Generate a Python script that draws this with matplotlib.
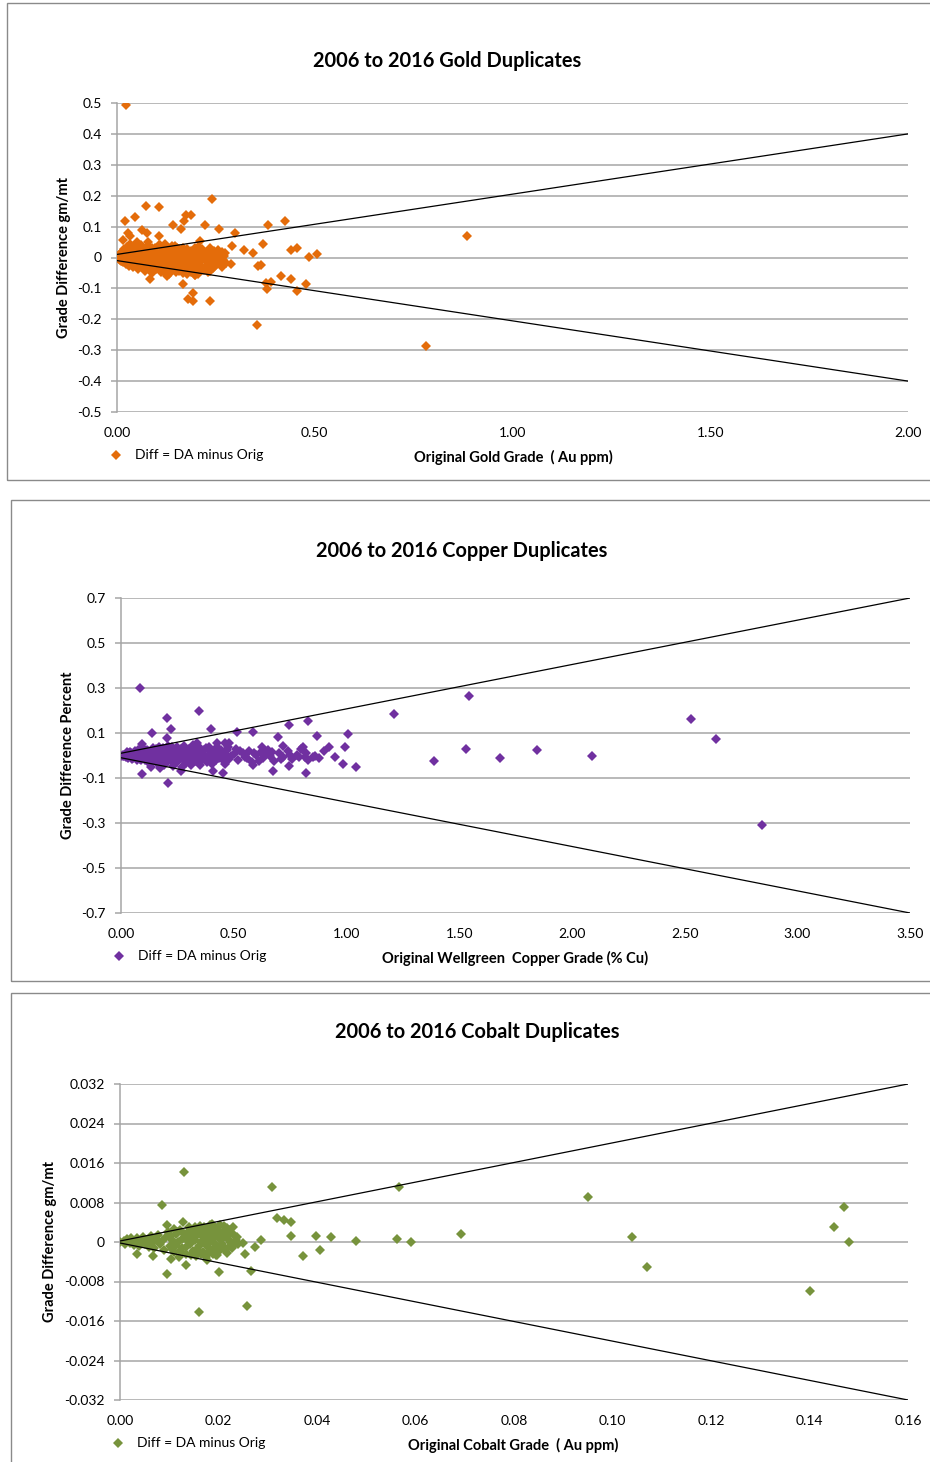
import numpy as np
import matplotlib.pyplot as plt
from matplotlib.patches import Rectangle

plt.rcParams['font.family'] = ['Lato', 'DejaVu Sans']

W, H = 930, 1462

# ---- gold duplicates (x = original Au ppm, y = duplicate minus original)
gold_pts = [
    (0.023, 0.492), (0.020, 0.117), (0.046, 0.130), (0.073, 0.166), (0.105, 0.163),
    (0.239, 0.190), (0.174, 0.136), (0.186, 0.137), (0.170, 0.118), (0.142, 0.104),
    (0.162, 0.093), (0.222, 0.104), (0.257, 0.091), (0.299, 0.079), (0.383, 0.104),
    (0.424, 0.118), (0.370, 0.044), (0.321, 0.023), (0.345, 0.013), (0.292, 0.037),
    (0.266, 0.018), (0.210, 0.055), (0.204, 0.035), (0.240, 0.022), (0.214, 0.010),
    (0.231, 0.007), (0.254, -0.006), (0.287, -0.020), (0.237, -0.031), (0.229, -0.047),
    (0.166, -0.087), (0.198, -0.056), (0.176, -0.053), (0.083, -0.071), (0.193, -0.114),
    (0.180, -0.134), (0.191, -0.141), (0.236, -0.140), (0.355, -0.217), (0.356, -0.026),
    (0.364, -0.025), (0.440, 0.023), (0.456, 0.030), (0.486, 0.002), (0.506, 0.012),
    (0.378, -0.082), (0.380, -0.101), (0.390, -0.080), (0.414, -0.060), (0.441, -0.071),
    (0.454, -0.110), (0.479, -0.087), (0.884, 0.069), (0.781, -0.285),
    (0.029, 0.080), (0.062, 0.088), (0.077, 0.078), (0.016, 0.058), (0.033, 0.069),
    (0.054, 0.042), (0.079, 0.050), (0.106, 0.069), (0.109, 0.042), (0.121, 0.044),
    (0.147, 0.037), (0.176, 0.020), (0.126, -0.060), (0.131, -0.055), (0.197, -0.058),
    (0.235, -0.044),
    (0.000, 0.000), (0.003, 0.004), (0.005, -0.004), (0.008, 0.010), (0.008, -0.008),
    (0.010, 0.002), (0.012, 0.018), (0.012, -0.012), (0.015, 0.006), (0.016, -0.016),
    (0.018, 0.026), (0.020, -0.002), (0.022, 0.012), (0.022, -0.020), (0.025, 0.034),
    (0.026, -0.010), (0.028, 0.020), (0.030, -0.026), (0.032, 0.004), (0.034, 0.044),
    (0.036, -0.016), (0.038, 0.026), (0.040, -0.032), (0.042, 0.010), (0.045, 0.036),
    (0.046, -0.022), (0.048, 0.002), (0.050, 0.050), (0.052, -0.038), (0.055, 0.020),
    (0.058, -0.010), (0.060, 0.040), (0.062, -0.028), (0.065, 0.006), (0.068, 0.028),
    (0.070, -0.044), (0.072, -0.016), (0.075, 0.014), (0.078, 0.038), (0.080, -0.004),
    (0.082, -0.030), (0.085, 0.022), (0.088, -0.050), (0.090, 0.004), (0.092, -0.020),
    (0.095, 0.030), (0.098, -0.036), (0.100, 0.012), (0.102, -0.008), (0.105, 0.040),
    (0.108, -0.026), (0.110, -0.046), (0.112, 0.018), (0.115, -0.012), (0.118, 0.030),
    (0.120, -0.036), (0.122, 0.002), (0.125, -0.054), (0.128, 0.024), (0.130, -0.020),
    (0.133, 0.008), (0.136, -0.040), (0.138, 0.036), (0.140, -0.006), (0.143, -0.028),
    (0.146, 0.016), (0.148, -0.048), (0.150, 0.000), (0.153, -0.018), (0.156, 0.026),
    (0.158, -0.036), (0.160, 0.010), (0.163, -0.008), (0.166, -0.050), (0.168, 0.032),
    (0.170, -0.024), (0.173, 0.004), (0.176, -0.040), (0.178, 0.018), (0.180, -0.012),
    (0.183, -0.030), (0.186, 0.022), (0.188, -0.046), (0.190, 0.006), (0.193, -0.020),
    (0.196, 0.030), (0.198, -0.034), (0.200, 0.000), (0.204, -0.052), (0.206, 0.016),
    (0.209, -0.014), (0.212, -0.028), (0.215, 0.026), (0.218, 0.004), (0.221, -0.040),
    (0.224, -0.008), (0.227, 0.014), (0.230, -0.022), (0.234, 0.030), (0.238, -0.002),
    (0.242, -0.034), (0.246, 0.012), (0.250, -0.016), (0.255, 0.024), (0.260, -0.006),
    (0.265, -0.030), (0.270, 0.006),
    (0.005, 0.008), (0.010, -0.010), (0.014, 0.012), (0.018, -0.006), (0.024, 0.004),
    (0.030, 0.014), (0.035, -0.006), (0.040, 0.020), (0.044, -0.012), (0.050, 0.008),
    (0.054, -0.024), (0.058, 0.030), (0.064, -0.004), (0.068, -0.034), (0.074, 0.024),
    (0.078, -0.022), (0.084, 0.006), (0.088, 0.032), (0.094, -0.010), (0.098, 0.018),
    (0.104, -0.030), (0.108, 0.008), (0.113, 0.034), (0.117, -0.022), (0.123, 0.014),
    (0.127, -0.008), (0.132, -0.032), (0.137, 0.020), (0.142, 0.004), (0.147, -0.016),
    (0.152, 0.032), (0.157, -0.044), (0.162, 0.020), (0.167, -0.004), (0.172, -0.034),
    (0.177, 0.028), (0.182, 0.008), (0.187, -0.024), (0.192, -0.040), (0.197, 0.014),
    (0.202, -0.010), (0.208, 0.028), (0.213, -0.040), (0.219, 0.018), (0.225, -0.030),
    (0.232, 0.004), (0.236, -0.014), (0.244, 0.022), (0.248, -0.026), (0.253, 0.002),
    (0.258, 0.016), (0.262, -0.020), (0.268, -0.008), (0.272, 0.014), (0.276, -0.018),
]
gold_env_x = [0.0, 2.0]
gold_env_y = [0.01, 0.40]

# ---- copper duplicates (% Cu)
copper_pts = [
    (0.084, 0.301), (0.346, 0.199), (0.203, 0.165), (0.222, 0.118), (0.139, 0.099),
    (0.203, 0.079), (0.093, 0.051), (0.398, 0.116), (0.516, 0.106), (0.584, 0.103),
    (0.745, 0.136), (0.831, 0.152), (0.695, 0.084), (0.871, 0.088), (1.009, 0.097),
    (0.921, 0.039), (0.994, 0.039), (0.806, 0.039), (0.815, -0.008), (0.850, -0.005),
    (0.880, -0.012), (0.986, -0.039), (1.041, -0.050), (0.821, -0.076), (0.744, -0.048),
    (0.674, -0.069), (0.624, 0.036), (0.717, 0.044), (1.387, -0.024), (1.529, 0.030),
    (1.544, 0.266), (1.213, 0.184), (0.210, -0.121), (0.092, -0.082), (0.451, -0.076),
    (0.407, -0.067), (0.587, -0.042), (0.268, -0.069), (0.173, -0.057), (0.133, -0.052),
    (0.336, 0.057), (0.463, 0.054), (0.480, 0.057), (0.424, 0.054),
    (1.680, -0.011), (1.846, 0.024), (2.090, -0.002), (2.529, 0.162), (2.640, 0.073),
    (2.844, -0.309),
    (0.00, 0.000), (0.01, 0.004), (0.01, -0.004), (0.02, 0.008), (0.02, -0.006),
    (0.03, 0.012), (0.03, -0.010), (0.04, 0.002), (0.04, 0.016), (0.05, -0.014),
    (0.05, 0.008), (0.06, 0.020), (0.06, -0.004), (0.07, -0.018), (0.07, 0.012),
    (0.08, 0.024), (0.08, -0.008), (0.09, 0.004), (0.09, -0.022), (0.10, 0.016),
    (0.10, 0.030), (0.11, -0.012), (0.11, 0.002), (0.12, 0.022), (0.12, -0.028),
    (0.13, 0.010), (0.13, -0.006), (0.14, 0.034), (0.14, -0.018), (0.15, 0.002),
    (0.15, 0.020), (0.16, -0.032), (0.16, -0.010), (0.17, 0.014), (0.17, 0.040),
    (0.18, -0.020), (0.18, 0.004), (0.19, 0.026), (0.19, -0.040), (0.20, -0.004),
    (0.20, 0.012), (0.21, 0.044), (0.21, -0.026), (0.22, 0.006), (0.22, 0.030),
    (0.23, -0.014), (0.23, -0.046), (0.24, 0.018), (0.24, 0.000), (0.25, 0.036),
    (0.25, -0.030), (0.26, 0.008), (0.26, -0.008), (0.27, 0.024), (0.27, -0.050),
    (0.28, -0.018), (0.28, 0.042), (0.29, 0.002), (0.29, -0.034), (0.30, 0.016),
    (0.30, 0.030), (0.31, -0.010), (0.31, -0.044), (0.32, 0.006), (0.32, 0.048),
    (0.33, -0.024), (0.33, 0.020), (0.34, -0.002), (0.35, 0.034), (0.35, -0.040),
    (0.36, 0.010), (0.37, -0.016), (0.37, 0.026), (0.38, -0.030), (0.39, 0.040),
    (0.39, 0.002), (0.40, -0.008), (0.41, 0.018), (0.42, -0.022), (0.43, 0.030),
    (0.44, -0.004), (0.45, 0.012), (0.46, -0.036), (0.47, 0.024), (0.48, -0.014),
    (0.50, 0.006), (0.51, 0.028), (0.52, -0.020), (0.54, 0.012), (0.55, -0.006),
    (0.57, 0.020), (0.58, -0.030), (0.60, 0.004), (0.62, 0.016), (0.63, -0.012),
    (0.65, 0.026), (0.66, -0.002), (0.68, -0.024), (0.70, 0.010), (0.72, -0.006),
    (0.74, 0.020), (0.76, -0.016), (0.78, 0.004), (0.80, 0.028), (0.83, -0.020),
    (0.015, 0.000), (0.025, 0.014), (0.035, -0.004), (0.045, 0.010), (0.055, -0.010),
    (0.065, 0.006), (0.075, 0.026), (0.085, -0.014), (0.095, 0.010), (0.105, -0.020),
    (0.115, 0.026), (0.125, 0.000), (0.135, -0.024), (0.145, 0.012), (0.155, 0.030),
    (0.165, -0.016), (0.175, 0.002), (0.185, 0.032), (0.195, -0.026), (0.205, 0.022),
    (0.215, -0.010), (0.225, 0.038), (0.235, -0.032), (0.245, 0.010), (0.255, -0.020),
    (0.265, 0.028), (0.275, -0.004), (0.285, 0.018), (0.295, -0.024), (0.305, 0.004),
    (0.315, 0.040), (0.325, -0.014), (0.335, 0.026), (0.345, -0.030), (0.355, 0.012),
    (0.365, -0.004), (0.375, 0.034), (0.385, -0.020), (0.395, 0.018), (0.405, -0.036),
    (0.415, 0.004), (0.425, 0.036), (0.435, -0.012), (0.445, 0.024), (0.455, -0.026),
    (0.465, 0.002), (0.475, 0.038), (0.49, -0.004), (0.53, 0.018), (0.56, -0.012),
    (0.59, 0.010), (0.61, -0.024), (0.64, 0.006), (0.67, 0.014), (0.71, -0.014),
    (0.75, 0.004), (0.79, -0.008), (0.82, 0.012), (0.86, 0.000), (0.90, 0.018),
    (0.95, -0.006),
]
copper_env_x = [0.0, 3.5]
copper_env_y = [0.01, 0.70]

# ---- cobalt duplicates
cobalt_pts = [
    (0.0129, 0.0141), (0.0309, 0.0111), (0.0085, 0.0074), (0.0318, 0.0049), (0.0095, 0.0034),
    (0.0127, 0.0041), (0.0095, -0.0065), (0.0161, -0.0142), (0.0257, -0.0129), (0.0134, -0.0046),
    (0.0200, -0.0060), (0.0267, -0.0058), (0.0035, -0.0025), (0.0066, -0.0028), (0.0104, -0.0035),
    (0.0120, -0.0031), (0.0176, -0.0036), (0.0195, -0.0026), (0.0254, -0.0024), (0.0274, -0.0011),
    (0.0286, 0.0004), (0.0250, -0.0003),
    (0.0333, 0.0045), (0.0347, 0.0040), (0.0347, 0.0012), (0.0372, -0.0028), (0.0406, -0.0016),
    (0.0398, 0.0012), (0.0428, 0.0010), (0.0479, 0.0002), (0.0562, 0.0006), (0.0567, 0.0111),
    (0.0591, 0.0000), (0.0692, 0.0016), (0.0950, 0.0091), (0.1040, 0.0010), (0.1070, -0.0051),
    (0.1400, -0.0099), (0.1450, 0.0030), (0.1470, 0.0071), (0.1480, 0.0000),
    (0.0000, 0.0000), (0.0008, 0.0003), (0.0010, -0.0004), (0.0015, 0.0006), (0.0020, -0.0002),
    (0.0022, 0.0008), (0.0028, -0.0006), (0.0030, 0.0003), (0.0035, 0.0009), (0.0038, -0.0008),
    (0.0042, 0.0001), (0.0046, 0.0010), (0.0050, -0.0005), (0.0055, 0.0004), (0.0058, -0.0010),
    (0.0062, 0.0012), (0.0066, 0.0000), (0.0070, -0.0012), (0.0074, 0.0007), (0.0078, 0.0015),
    (0.0082, -0.0004), (0.0086, 0.0003), (0.0090, -0.0016), (0.0094, 0.0011), (0.0098, 0.0020),
    (0.0102, -0.0008), (0.0106, 0.0005), (0.0110, -0.0020), (0.0114, 0.0016), (0.0118, 0.0000),
    (0.0122, 0.0024), (0.0126, -0.0012), (0.0130, 0.0008), (0.0134, -0.0024), (0.0138, 0.0018),
    (0.0140, 0.0030), (0.0142, -0.0004), (0.0146, 0.0012), (0.0148, -0.0018), (0.0150, 0.0026),
    (0.0152, 0.0004), (0.0155, -0.0028), (0.0158, 0.0016), (0.0160, -0.0008), (0.0162, 0.0032),
    (0.0165, 0.0000), (0.0168, -0.0020), (0.0170, 0.0022), (0.0172, 0.0008), (0.0175, -0.0030),
    (0.0178, 0.0014), (0.0180, -0.0012), (0.0182, 0.0034), (0.0185, 0.0002), (0.0188, -0.0024),
    (0.0190, 0.0026), (0.0192, 0.0010), (0.0195, -0.0006), (0.0198, 0.0030), (0.0200, -0.0018),
    (0.0203, 0.0018), (0.0206, 0.0004), (0.0209, -0.0010), (0.0212, 0.0032), (0.0215, 0.0012),
    (0.0218, -0.0022), (0.0221, 0.0024), (0.0224, 0.0000), (0.0228, -0.0012), (0.0232, 0.0014),
    (0.0236, 0.0004), (0.0240, -0.0004),
    (0.0101, 0.0012), (0.0105, -0.0014), (0.0109, 0.0026), (0.0113, -0.0006), (0.0117, 0.0020),
    (0.0121, -0.0018), (0.0125, 0.0006), (0.0129, 0.0016), (0.0133, -0.0010), (0.0137, 0.0004),
    (0.0141, 0.0022), (0.0145, -0.0026), (0.0149, 0.0008), (0.0153, 0.0030), (0.0157, -0.0014),
    (0.0161, 0.0020), (0.0164, -0.0024), (0.0167, 0.0012), (0.0171, 0.0030), (0.0174, -0.0006),
    (0.0177, 0.0024), (0.0181, -0.0020), (0.0184, 0.0016), (0.0187, 0.0036), (0.0191, -0.0014),
    (0.0194, 0.0020), (0.0197, -0.0026), (0.0201, 0.0008), (0.0204, 0.0034), (0.0207, -0.0004),
    (0.0211, 0.0022), (0.0214, -0.0016), (0.0217, 0.0028), (0.0220, 0.0006), (0.0223, -0.0008),
    (0.0226, 0.0018), (0.0230, 0.0030), (0.0234, -0.0004), (0.0238, 0.0010),
]
cobalt_env_x = [0.0, 0.16]
cobalt_env_y = [0.0002, 0.032]

GRID = '#A5A5A5'
FRAME = '#8A8A8A'
MS = 4.6


def fx(px):
    return px / W


def fy(py):
    return 1 - py / H


fig = plt.figure(figsize=(W / 100, H / 100), dpi=100)


def draw_panel(frame, area, pts, color, env_x, env_y, xticks, xfmt, yticks, ylabels,
               title, title_xy, xlabel, xlabel_xy, ylabel, ylabel_xy, legend_xy):
    # outer chart border
    x0, y0, x1, y1 = frame
    fig.patches.append(Rectangle((fx(x0), fy(y1)), fx(x1 - x0), (y1 - y0) / H,
                                 transform=fig.transFigure, fill=False,
                                 edgecolor=FRAME, linewidth=1.0))
    l, t, r, b = area
    ax = fig.add_axes([fx(l), fy(b), (r - l) / W, (b - t) / H])
    pts = np.array(pts)
    ax.plot(pts[:, 0], pts[:, 1], linestyle='none', marker='D', markersize=MS,
            color=color, markeredgewidth=0, zorder=3)
    ex = np.array(env_x)
    ey = np.array(env_y)
    ax.plot(ex, ey, color='black', linewidth=0.9, zorder=4)
    ax.plot(ex, -ey, color='black', linewidth=0.9, zorder=4)

    ax.set_xlim(xticks[0], xticks[-1])
    ax.set_ylim(yticks[0], yticks[-1])
    ax.set_xticks(xticks)
    ax.set_xticklabels([xfmt.format(v) for v in xticks])
    ax.set_yticks(yticks)
    ax.set_yticklabels(ylabels)
    ax.grid(axis='y', color=GRID, linewidth=1.1)
    ax.set_axisbelow(True)
    for side in ('top', 'right', 'bottom'):
        ax.spines[side].set_visible(False)
    ax.spines['left'].set_color(GRID)
    ax.spines['left'].set_linewidth(1.1)
    ax.tick_params(axis='y', length=4, width=1.1, color=GRID, pad=7, labelsize=10)
    ax.tick_params(axis='x', length=0, pad=11, labelsize=10)

    fig.text(fx(title_xy[0]), fy(title_xy[1]), title, ha='center', va='center',
             fontsize=14.4, fontweight='bold')
    fig.text(fx(xlabel_xy[0]), fy(xlabel_xy[1]), xlabel, ha='center', va='center',
             fontsize=10.5, fontweight='bold')
    fig.text(fx(ylabel_xy[0]), fy(ylabel_xy[1]), ylabel, ha='center', va='center',
             rotation=90, fontsize=10.5, fontweight='bold')
    fig.lines.append(plt.Line2D([fx(legend_xy[0])], [fy(legend_xy[1])], marker='D',
                                markersize=MS, color=color, markeredgewidth=0,
                                linestyle='none', transform=fig.transFigure))
    fig.text(fx(legend_xy[0] + 19), fy(legend_xy[1]), 'Diff = DA minus Orig',
             ha='left', va='center', fontsize=10)
    return ax


gold_yt = [-0.5, -0.4, -0.3, -0.2, -0.1, 0.0, 0.1, 0.2, 0.3, 0.4, 0.5]
draw_panel((7, 3, 940, 480), (117, 103, 908, 412), gold_pts, '#E46C0A',
           gold_env_x, gold_env_y, [0.0, 0.5, 1.0, 1.5, 2.0], '{:.2f}',
           gold_yt, ['0' if v == 0 else '{:.1f}'.format(v) for v in gold_yt],
           '2006 to 2016 Gold Duplicates', (447, 61),
           'Original Gold Grade  ( Au ppm)', (513, 457),
           'Grade Difference gm/mt', (64, 258), (116, 455))

copper_yt = [-0.7, -0.5, -0.3, -0.1, 0.1, 0.3, 0.5, 0.7]
draw_panel((11, 500, 940, 981), (121, 598, 910, 913), copper_pts, '#7030A0',
           copper_env_x, copper_env_y, [0.0, 0.5, 1.0, 1.5, 2.0, 2.5, 3.0, 3.5], '{:.2f}',
           copper_yt, ['{:.1f}'.format(v) for v in copper_yt],
           '2006 to 2016 Copper Duplicates', (462, 551),
           'Original Wellgreen  Copper Grade (% Cu)', (515, 958),
           'Grade Difference Percent', (68, 755), (119, 956))

cobalt_yt = [-0.032, -0.024, -0.016, -0.008, 0.0, 0.008, 0.016, 0.024, 0.032]
draw_panel((11, 993, 940, 1480), (120, 1084, 908, 1400), cobalt_pts, '#77933C',
           cobalt_env_x, cobalt_env_y,
           [0.0, 0.02, 0.04, 0.06, 0.08, 0.10, 0.12, 0.14, 0.16], '{:.2f}',
           cobalt_yt, ['0' if v == 0 else '{:.3f}'.format(v) for v in cobalt_yt],
           '2006 to 2016 Cobalt Duplicates', (477, 1032),
           'Original Cobalt Grade  ( Au ppm)', (513, 1445),
           'Grade Difference gm/mt', (50, 1242), (118, 1443))

fig.savefig('out.png', dpi=100)
